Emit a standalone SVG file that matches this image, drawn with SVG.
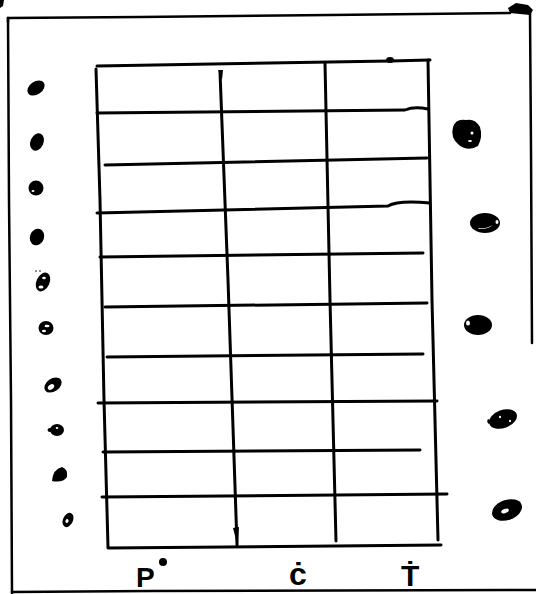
<svg xmlns="http://www.w3.org/2000/svg" width="536" height="594" viewBox="0 0 536 594">
<style>
.ln{fill:none;stroke:#000;stroke-width:3;stroke-linecap:round;stroke-linejoin:round}
.fr{fill:none;stroke:#000;stroke-width:2.5;stroke-linecap:round}
.blob{fill:#000}
.hole{fill:#fff}
.lbl{font-family:"Liberation Sans",Arial,sans-serif;fill:#000;font-weight:bold}
</style>
<rect width="536" height="594" fill="#fff"/>
<g id="frame">
<path class="fr" d="M8,22 L8,18 L140,17 L330,15 L510,13"/>
<path class="fr" d="M8,18 L9,200 L11,400 L12,594"/>
<path class="fr" d="M530,12 L531,150 L532,343"/>
<path class="fr" d="M12,592 L150,591 L536,590"/>
<path class="blob" d="M508,8 L516,3 L528,5 L533,10 L530,15 L520,14 L510,13 Z"/>
<path class="blob" d="M0,0 L4,0 L3,6 L0,8 Z"/>
</g>
<g id="table">
<path class="ln" d="M97,66 L390,61 L430,60"/>
<ellipse class="blob" cx="390" cy="60" rx="4" ry="3"/>
<path class="ln" d="M97,113 L405,110 Q414,106 428,109"/>
<path class="ln" d="M105,165 L427,158"/>
<path class="ln" d="M97,213 L388,206 Q398,200 430,203"/>
<path class="ln" d="M100,257 L423,253"/>
<path class="ln" d="M105,307 L427,303"/>
<path class="ln" d="M107,357 L423,354"/>
<path class="ln" d="M98,403 L437,401"/>
<path class="ln" d="M103,452 L420,450"/>
<path class="ln" d="M102,497 L447,494"/>
<path class="ln" d="M108,548 L441,545"/>
<path class="ln" d="M96,69 L100,200 L104,400 L108,547"/>
<path class="ln" d="M220,72 L228,280 L237,545"/>
<path class="blob" d="M218,70 L223,70 L222,80 Z"/>
<path class="ln" d="M325,63 L330,300 L336,541"/>
<path class="ln" d="M428,60 L432,300 L438,540"/>
<path class="blob" d="M233,528 L239,527 L238,547 Z"/>
</g>
<g id="dots-left">
<ellipse class="blob" cx="36" cy="88" rx="9.5" ry="6.5" transform="rotate(-35 36 88)"/>
<ellipse class="blob" cx="37" cy="142" rx="6.5" ry="9" transform="rotate(25 37 142)"/>
<ellipse class="blob" cx="36" cy="188" rx="7.5" ry="7.5"/>
<ellipse class="hole" cx="33" cy="191" rx="1.5" ry="1"/>
<ellipse class="blob" cx="37" cy="237" rx="7" ry="8.5" transform="rotate(20 37 237)"/>
<ellipse class="blob" cx="43" cy="282" rx="6.5" ry="10" transform="rotate(25 43 282)"/>
<ellipse class="hole" cx="44" cy="278" rx="1.8" ry="1.3"/>
<ellipse class="hole" cx="41" cy="287" rx="2.5" ry="1.5"/>
<circle class="blob" cx="36" cy="271" r="0.8"/>
<circle class="blob" cx="40" cy="271" r="0.8"/>
<ellipse class="blob" cx="46" cy="328" rx="7.5" ry="7"/>
<ellipse class="hole" cx="47" cy="326" rx="2.5" ry="1.3"/>
<ellipse class="hole" cx="44" cy="331" rx="2" ry="1.3"/>
<ellipse class="blob" cx="53" cy="385" rx="9.5" ry="6.5" transform="rotate(-35 53 385)"/>
<ellipse class="hole" cx="51" cy="387" rx="3.5" ry="2.3" transform="rotate(-35 51 387)"/>
<ellipse class="blob" cx="57" cy="430" rx="7" ry="6"/>
<ellipse class="blob" cx="50" cy="430" rx="2.5" ry="2"/>
<ellipse class="hole" cx="57" cy="428" rx="1.3" ry="1"/>
<path class="blob" d="M52,481 Q53,469 62,467 Q68,469 67,477 Q63,483 52,481 Z"/>
<ellipse class="blob" cx="68" cy="520" rx="5" ry="7.5" transform="rotate(25 68 520)"/>
<ellipse class="hole" cx="67" cy="521" rx="1.5" ry="2" transform="rotate(25 67 521)"/>
</g>
<g id="dots-right">
<path class="blob" d="M453,127 Q456,118 466,120 Q475,118 480,127 Q483,137 478,146 Q468,152 459,145 Q450,138 453,127 Z"/>
<ellipse class="hole" cx="472" cy="133" rx="1.5" ry="1.5"/>
<ellipse class="hole" cx="470" cy="141" rx="2" ry="1"/>
<ellipse class="blob" cx="485" cy="223" rx="15" ry="10"/>
<path class="hole" d="M478,228 Q487,229 492,225 Q490,229 479,229 Z"/>
<ellipse class="hole" cx="497" cy="222" rx="1.5" ry="2"/>
<ellipse class="blob" cx="478" cy="325" rx="14" ry="10"/>
<ellipse class="hole" cx="468" cy="323" rx="2" ry="2.5"/>
<ellipse class="blob" cx="503" cy="419" rx="14.5" ry="9" transform="rotate(-20 503 419)"/>
<path class="blob" d="M489,424 Q486,422 488,419 L492,421 Z"/>
<ellipse class="hole" cx="500" cy="417" rx="1" ry="1.2"/>
<ellipse class="hole" cx="510" cy="421" rx="1" ry="1.2"/>
<ellipse class="blob" cx="507" cy="510" rx="15.5" ry="10" transform="rotate(-20 507 510)"/>
<ellipse class="hole" cx="505" cy="511" rx="4" ry="2" transform="rotate(-20 505 511)"/>
</g>
<g id="labels">
<text class="lbl" x="136" y="587" font-size="28">P</text>
<circle class="blob" cx="163" cy="562" r="4"/>
<text class="lbl" x="289" y="585" font-size="32">ċ</text>
<text class="lbl" x="401" y="586" font-size="30">Ṫ</text>
</g>
</svg>
